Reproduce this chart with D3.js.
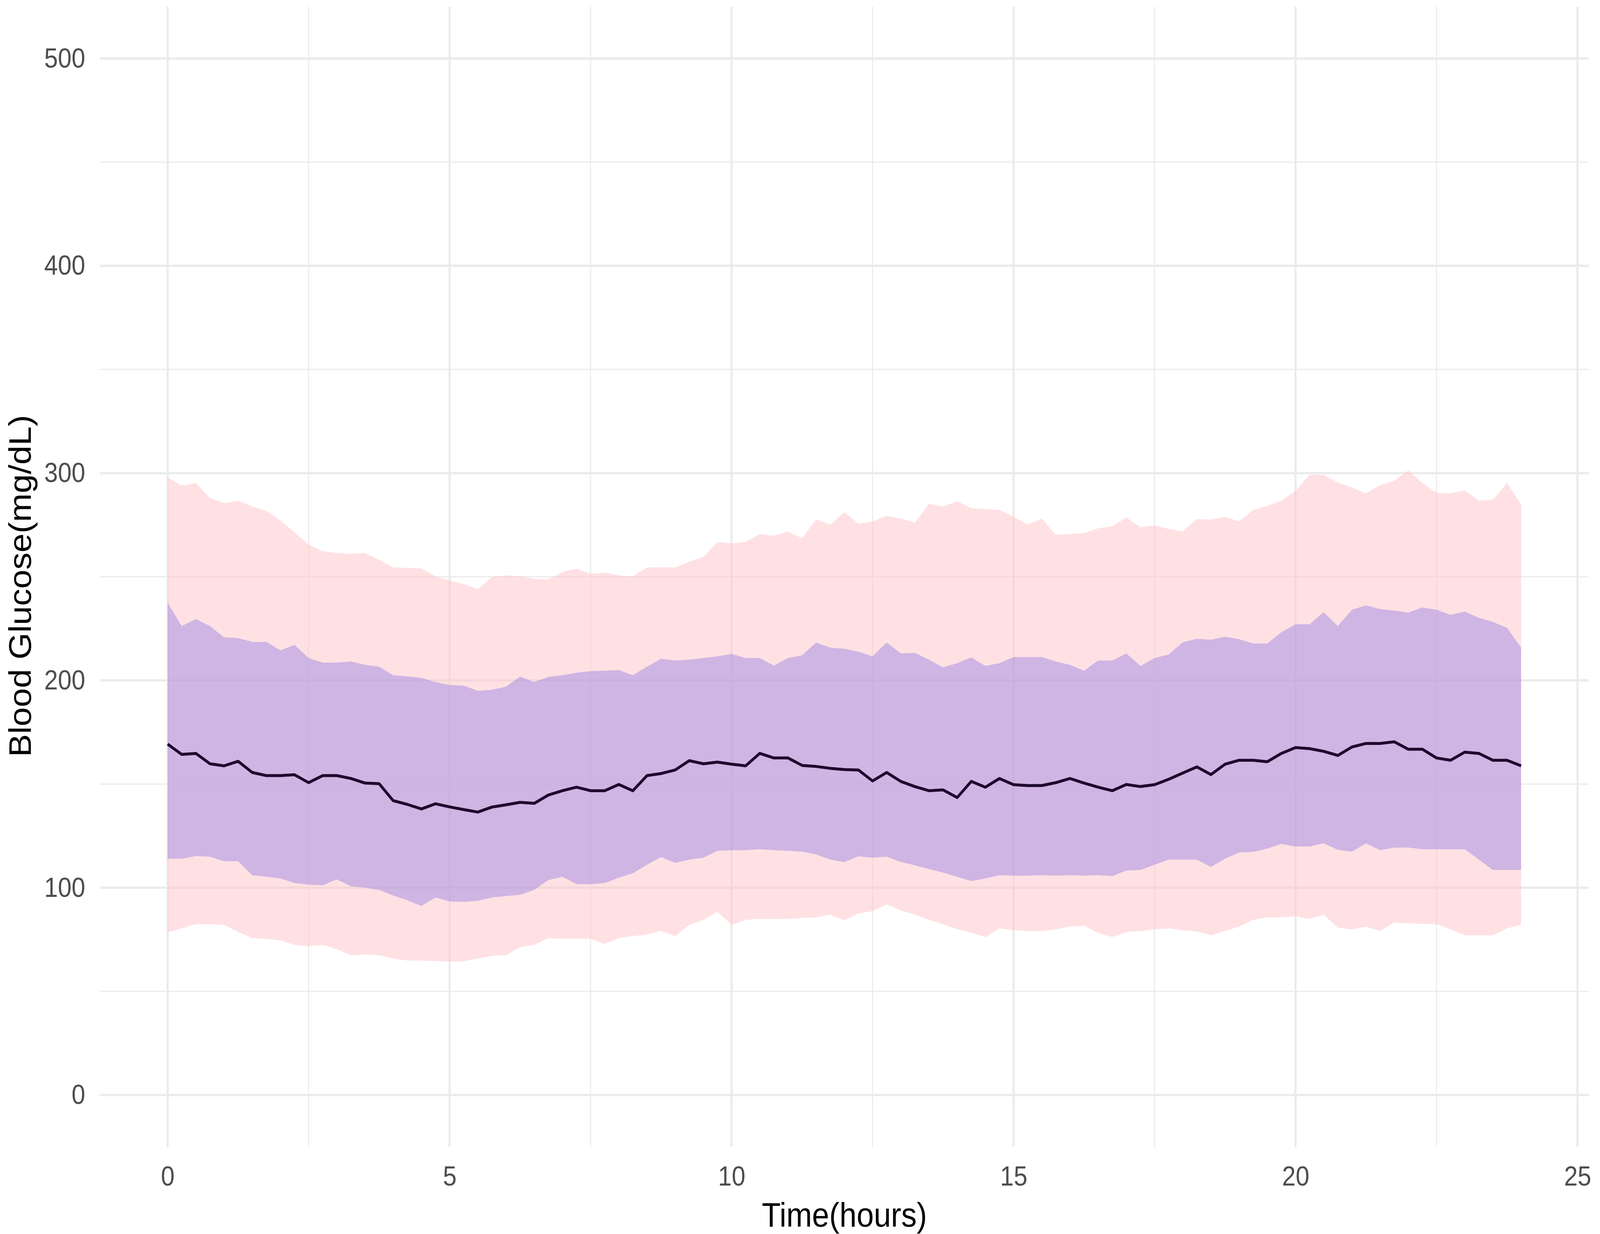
<!DOCTYPE html>
<html>
<head>
<meta charset="utf-8">
<script src="https://cdn.jsdelivr.net/npm/d3@7"></script>
<style>
  html, body { margin: 0; padding: 0; background: #fff; overflow: hidden; width: 100%; height: 100%; }
  svg { display: block; width: 100vw; height: 100vh; }
</style>
</head>
<body>
<svg id="chart" viewBox="0 0 4562 3159" preserveAspectRatio="none"></svg>
<script>
'use strict';

/* global d3 */

// time of day, hours (15 minute steps)
var hours = [0, 0.25, 0.5, 0.75, 1, 1.25, 1.5, 1.75, 2, 2.25, 2.5, 2.75, 3, 3.25, 3.5, 3.75,
  4, 4.25, 4.5, 4.75, 5, 5.25, 5.5, 5.75, 6, 6.25, 6.5, 6.75, 7, 7.25, 7.5, 7.75,
  8, 8.25, 8.5, 8.75, 9, 9.25, 9.5, 9.75, 10, 10.25, 10.5, 10.75, 11, 11.25, 11.5, 11.75,
  12, 12.25, 12.5, 12.75, 13, 13.25, 13.5, 13.75, 14, 14.25, 14.5, 14.75, 15, 15.25, 15.5, 15.75,
  16, 16.25, 16.5, 16.75, 17, 17.25, 17.5, 17.75, 18, 18.25, 18.5, 18.75, 19, 19.25, 19.5, 19.75,
  20, 20.25, 20.5, 20.75, 21, 21.25, 21.5, 21.75, 22, 22.25, 22.5, 22.75, 23, 23.25, 23.5, 23.75, 24];

// 95th percentile
var p95 = [298, 293.9, 295.2, 288, 285.5, 286.7, 283.9, 281.7, 277.2, 271.4, 265.6, 262.3, 261.5, 261, 261.5, 258.1,
  254.5, 254.3, 254, 250.2, 248.2, 246.5, 244, 249.8, 250.7, 250.2, 249, 248.7, 252.3, 254, 251.5, 252,
  250.7, 250.2, 254.5, 254.5, 254.5, 257.3, 259.5, 266.8, 266.1, 266.8, 270.6, 269.8, 271.8, 268.6, 277.7, 275.1,
  281.2, 275.6, 276.7, 279.4, 278.1, 276.1, 285.2, 283.9, 286.4, 283.1, 282.7, 282.2, 278.9, 275.1, 278.1, 270.1,
  270.6, 271.1, 273.4, 274.4, 278.6, 273.9, 274.8, 273.1, 271.9, 277.8, 277.6, 278.9, 276.7, 282.2, 284.2, 286.7,
  291.4, 299.2, 299.2, 295.5, 293, 290.2, 294.2, 296.3, 301.3, 295.2, 290.5, 290.2, 291.7, 286.7, 287.2, 295.2, 285];

// 75th percentile
var p75 = [237.5, 226.2, 229.6, 226.2, 220.8, 220.4, 218.6, 218.6, 214.5, 217.1, 210.8, 208.6, 208.6, 209.1, 207.5, 206.6,
  202.5, 202, 201.2, 199.2, 197.8, 197.5, 195, 195.5, 197, 201.8, 199.2, 201.7, 202.5, 203.7, 204.5, 204.7,
  205, 202.5, 206.6, 210.5, 209.6, 210, 210.8, 211.6, 212.8, 210.8, 210.8, 207.1, 210.8, 212.1, 218.3, 215.8,
  215.3, 213.8, 211.6, 218.3, 213, 213.3, 210, 206.3, 208.3, 211.1, 207, 208.3, 211.3, 211.3, 211.3, 209.1,
  207.5, 204.7, 209.6, 209.6, 213, 207, 210.8, 212.5, 218.4, 220.1, 219.6, 221.1, 219.9, 217.8, 217.8, 223.3,
  227.1, 227.1, 232.9, 226.2, 234.1, 236.2, 234.4, 233.7, 232.7, 235.2, 234.1, 231.6, 233.2, 230.2, 228.2, 225.4, 215.8];

// median
var p50 = [169.3, 164.3, 164.8, 159.8, 158.8, 161, 155.6, 154.1, 154.1, 154.5, 150.7, 154.1, 154.1, 152.7, 150.5, 150.2,
  142, 140.2, 138, 140.5, 139, 137.7, 136.5, 138.9, 140, 141.2, 140.7, 144.7, 146.8, 148.5, 146.8, 146.8,
  149.8, 146.8, 154.1, 155.1, 156.8, 161.3, 159.8, 160.6, 159.6, 158.8, 164.8, 162.6, 162.6, 159, 158.5, 157.6,
  157, 156.8, 151.5, 155.6, 151.3, 148.8, 146.8, 147.2, 143.5, 151.3, 148.5, 152.7, 149.7, 149.3, 149.3, 150.7,
  152.7, 150.5, 148.5, 146.8, 149.8, 148.8, 149.7, 152.3, 155.3, 158.3, 154.6, 159.6, 161.5, 161.5, 160.8, 164.8,
  167.6, 167.1, 165.8, 163.8, 167.9, 169.6, 169.6, 170.4, 166.8, 166.8, 162.6, 161.5, 165.4, 164.8, 161.5, 161.5, 158.8];

// 25th percentile
var p25 = [114, 114, 115.3, 115, 112.8, 112.8, 106.1, 105.3, 104.5, 102.3, 101.5, 101.2, 104, 100.7, 100, 99,
  96.2, 94, 91.2, 95.3, 93.4, 93.2, 93.7, 95.3, 96, 96.6, 99, 103.7, 105.3, 101.7, 101.7, 102.3,
  104.8, 107, 111.1, 114.8, 112, 113.6, 114.5, 117.8, 118.1, 118.1, 118.6, 118.1, 117.8, 117.4, 116.1, 113.6,
  112.4, 115.2, 114.5, 115, 112.5, 110.8, 109, 107.3, 105.3, 103.2, 104.5, 106.1, 105.8, 105.8, 106.1, 105.8,
  106.1, 105.8, 106.1, 105.6, 108.3, 108.6, 111.1, 113.6, 113.6, 113.6, 110, 114, 117, 117.3, 118.9, 121.1,
  119.9, 119.9, 121.4, 118.3, 117.4, 121.4, 118.1, 119.4, 119.4, 118.6, 118.6, 118.6, 118.6, 113.6, 108.6, 108.6, 108.6];

// 5th percentile
var p5 = [78.4, 80.4, 82.4, 82.4, 82.1, 78.7, 75.7, 75.4, 74.6, 72.4, 71.8, 72.4, 70.4, 67.4, 67.9, 67.4,
  65.8, 64.9, 64.9, 64.6, 64.3, 64.6, 65.8, 67.1, 67.5, 71.4, 72.4, 75.7, 75.4, 75.4, 75.4, 72.9,
  75.7, 76.7, 77.4, 79.2, 76.7, 82.1, 84.5, 88.4, 82.1, 84.5, 85, 85, 85, 85.4, 85.7, 87,
  84.3, 87.6, 88.7, 92, 89, 87, 84.5, 82.4, 80, 78.4, 76.2, 80.4, 79.6, 79.1, 79.1, 79.9,
  81.2, 81.7, 78.2, 76.2, 78.7, 79.1, 79.9, 80.4, 79.5, 78.9, 77.1, 79.2, 81.2, 84.5, 85.7, 85.7,
  86.2, 85, 87, 80.7, 79.9, 81.2, 79.1, 83.2, 82.9, 82.6, 82.4, 80, 77.1, 77.1, 77.1, 80.4, 82.1];

var xMajor = [0, 5, 10, 15, 20, 25];
var xMinor = [2.5, 7.5, 12.5, 17.5, 22.5];
var yMajor = [0, 100, 200, 300, 400, 500];
var yMinor = [50, 150, 250, 350, 450];

(function () {
  var W = 4562, H = 3159;
  var svg = d3.select('#chart');
  var font = '"Liberation Sans", Arial, "DejaVu Sans", sans-serif';

  var panel = { left: 285, right: 4530, top: 17, bottom: 2936 };

  var x = d3.scaleLinear().domain([-1.2, 25.2]).range([panel.left, panel.right]);
  var y = d3.scaleLinear().domain([-25, 525]).range([panel.bottom, panel.top]);

  var data = hours.map(function (h, i) {
    return { h: h, p5: p5[i], p25: p25[i], p50: p50[i], p75: p75[i], p95: p95[i] };
  });

  svg.append('rect').attr('width', W).attr('height', H).attr('fill', '#fff');

  // gridlines (minor first, then major)
  var grid = svg.append('g').attr('stroke', '#ebebeb').attr('fill', 'none');
  grid.selectAll('line.ymin').data(yMinor).enter().append('line')
    .attr('x1', panel.left).attr('x2', panel.right)
    .attr('y1', function (d) { return y(d); }).attr('y2', function (d) { return y(d); })
    .attr('stroke-width', 3);
  grid.selectAll('line.xmin').data(xMinor).enter().append('line')
    .attr('y1', panel.top).attr('y2', panel.bottom)
    .attr('x1', function (d) { return x(d); }).attr('x2', function (d) { return x(d); })
    .attr('stroke-width', 3);
  grid.selectAll('line.ymaj').data(yMajor).enter().append('line')
    .attr('x1', panel.left).attr('x2', panel.right)
    .attr('y1', function (d) { return y(d); }).attr('y2', function (d) { return y(d); })
    .attr('stroke-width', 6);
  grid.selectAll('line.xmaj').data(xMajor).enter().append('line')
    .attr('y1', panel.top).attr('y2', panel.bottom)
    .attr('x1', function (d) { return x(d); }).attr('x2', function (d) { return x(d); })
    .attr('stroke-width', 6);

  // ribbons: 5-95 outer, 25-75 inner
  var outer = d3.area()
    .x(function (d) { return x(d.h); })
    .y0(function (d) { return y(d.p5); })
    .y1(function (d) { return y(d.p95); });
  var inner = d3.area()
    .x(function (d) { return x(d.h); })
    .y0(function (d) { return y(d.p25); })
    .y1(function (d) { return y(d.p75); });

  svg.append('path').datum(data).attr('d', outer)
    .attr('fill', 'rgb(255,195,201)').attr('fill-opacity', 0.5);
  svg.append('path').datum(data).attr('d', inner)
    .attr('fill', '#9f89e1').attr('fill-opacity', 0.5);

  // median line
  var line = d3.line()
    .x(function (d) { return x(d.h); })
    .y(function (d) { return y(d.p50); });
  svg.append('path').datum(data).attr('d', line)
    .attr('fill', 'none').attr('stroke', '#1d0a2c').attr('stroke-width', 7.5)
    .attr('stroke-linejoin', 'round');

  // axes (labels only, theme_minimal style)
  var xAxis = d3.axisBottom(x).tickValues(xMajor).tickSize(0).tickPadding(49);
  var yAxis = d3.axisLeft(y).tickValues(yMajor).tickSize(0).tickPadding(42);

  var xG = svg.append('g').attr('transform', 'translate(0,' + panel.bottom + ')').call(xAxis);
  var yG = svg.append('g').attr('transform', 'translate(' + panel.left + ',0)').call(yAxis);
  [xG, yG].forEach(function (g) {
    g.select('.domain').remove();
    g.selectAll('text')
      .attr('fill', '#4d4d4d')
      .style('font-family', font)
      .style('font-size', '70px');
  });

  // axis titles
  svg.append('text')
    .attr('x', (panel.left + panel.right) / 2).attr('y', 3140)
    .attr('text-anchor', 'middle')
    .style('font-family', font).style('font-size', '88px')
    .attr('fill', '#000')
    .text('Time(hours)');

  svg.append('text')
    .attr('transform', 'translate(88,1500) rotate(-90)')
    .attr('text-anchor', 'middle')
    .style('font-family', font).style('font-size', '88px')
    .attr('fill', '#000')
    .text('Blood Glucose(mg/dL)');
})();
</script>
</body>
</html>
